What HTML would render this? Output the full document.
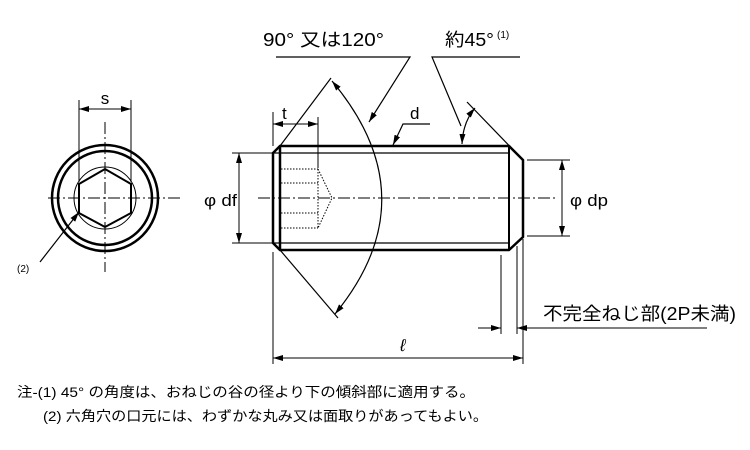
<!DOCTYPE html>
<html><head><meta charset="utf-8"><style>
html,body{margin:0;padding:0;background:#fff;}
svg{display:block;}
text{font-family:"Liberation Sans","Noto Sans CJK JP",sans-serif;fill:#000;}
</style></head><body>
<svg width="750" height="450" viewBox="0 0 750 450" xmlns="http://www.w3.org/2000/svg">
<defs>
<marker id="a" viewBox="0 0 10 6" refX="10" refY="3" markerWidth="10" markerHeight="6" orient="auto-start-reverse" markerUnits="userSpaceOnUse"><path d="M0,0 L10,3 L0,6 z" fill="#000"/></marker>
</defs>
<g fill="none" stroke="#000">
<circle cx="105" cy="198" r="53" stroke-width="2.5"/>
<circle cx="105" cy="198" r="47" stroke-width="2.5"/>
<circle cx="105" cy="198" r="31" stroke-width="1"/>
<polygon points="105,169 131,184 131,213 105,227 79,213 79,184" stroke-width="2"/>
<line x1="48" y1="198" x2="180" y2="198" stroke-width="1" stroke-dasharray="12,3,2,3"/>
<line x1="105" y1="122" x2="105" y2="272" stroke-width="1" stroke-dasharray="12,3,2,3"/>
<line x1="79" y1="100" x2="79" y2="182" stroke-width="1"/>
<line x1="131" y1="100" x2="131" y2="182" stroke-width="1"/>
<line x1="79" y1="109" x2="131" y2="109" stroke-width="1" marker-start="url(#a)" marker-end="url(#a)"/>
<line x1="40" y1="262" x2="79" y2="212" stroke-width="1.2" marker-end="url(#a)"/>

<path d="M280,146 L509,146 L523,160 L523,237 L509,250 L280,250 L273,243 L273,153 Z" stroke-width="2.5"/>
<line x1="280" y1="146" x2="280" y2="250" stroke-width="2.5"/>
<line x1="509" y1="146" x2="509" y2="250" stroke-width="2"/>
<line x1="273" y1="153" x2="509" y2="153" stroke-width="1.2"/>
<line x1="273" y1="243" x2="509" y2="243" stroke-width="1.2"/>
<line x1="258" y1="198" x2="555" y2="198" stroke-width="1" stroke-dasharray="12,3,2,3"/>
<g stroke-width="1" stroke-dasharray="1.5,1.5">
<line x1="281" y1="169" x2="318" y2="169"/>
<line x1="281" y1="183" x2="318" y2="183"/>
<line x1="281" y1="213" x2="318" y2="213"/>
<line x1="281" y1="228" x2="318" y2="228"/>
<polyline points="318,169 318,228"/>
<polyline points="318,169 332,198 318,228"/>
</g>
<line x1="280" y1="146" x2="331" y2="78" stroke-width="1.2"/>
<line x1="280" y1="250" x2="338" y2="318" stroke-width="1.2"/>
<path d="M332,81 Q430,198 335,314" stroke-width="1.2" marker-start="url(#a)" marker-end="url(#a)"/>
<polyline points="276,57 410,57 369,122" stroke-width="1.2" marker-end="url(#a)"/>
<line x1="523" y1="160" x2="467" y2="102" stroke-width="1.2"/>
<path d="M462,144 Q463,122 475,108" stroke-width="1.2" marker-start="url(#a)" marker-end="url(#a)"/>
<polyline points="520,57 432,57 461,126" stroke-width="1.2"/>
<polyline points="430,124 403,124 393,145" stroke-width="1.2" marker-end="url(#a)"/>
<line x1="273" y1="112" x2="273" y2="146" stroke-width="1"/>
<line x1="318" y1="117" x2="318" y2="168" stroke-width="1"/>
<line x1="273" y1="124" x2="318" y2="124" stroke-width="1" marker-start="url(#a)" marker-end="url(#a)"/>
<line x1="232" y1="153" x2="272" y2="153" stroke-width="1"/>
<line x1="232" y1="243" x2="272" y2="243" stroke-width="1"/>
<line x1="239" y1="153" x2="239" y2="243" stroke-width="1" marker-start="url(#a)" marker-end="url(#a)"/>
<line x1="527" y1="160" x2="570" y2="160" stroke-width="1"/>
<line x1="527" y1="236" x2="570" y2="236" stroke-width="1"/>
<line x1="562" y1="160" x2="562" y2="236" stroke-width="1" marker-start="url(#a)" marker-end="url(#a)"/>
<line x1="273" y1="252" x2="273" y2="364" stroke-width="1"/>
<line x1="523" y1="239" x2="523" y2="364" stroke-width="1"/>
<line x1="273" y1="358" x2="523" y2="358" stroke-width="1" marker-start="url(#a)" marker-end="url(#a)"/>
<line x1="501" y1="255" x2="501" y2="334" stroke-width="1"/>
<line x1="517" y1="246" x2="517" y2="334" stroke-width="1"/>
<line x1="478" y1="328" x2="501" y2="328" stroke-width="1" marker-end="url(#a)"/>
<line x1="707" y1="328" x2="517" y2="328" stroke-width="1" marker-end="url(#a)"/>
</g>
<circle cx="522" cy="328" r="1.5" fill="#000"/>

<text x="263" y="46" font-size="18" textLength="121" lengthAdjust="spacingAndGlyphs">90°  又は120°</text>
<text x="445" y="46" font-size="18" textLength="49" lengthAdjust="spacingAndGlyphs">約45°</text>
<text x="497" y="38" font-size="10">(1)</text>
<text x="410" y="119" font-size="17">d</text>
<text x="282" y="119" font-size="17">t</text>
<text x="105" y="104" font-size="17" text-anchor="middle">s</text>
<text x="17" y="272" font-size="10">(2)</text>
<text x="204" y="206" font-size="17" textLength="33" lengthAdjust="spacingAndGlyphs">φ df</text>
<text x="570" y="206" font-size="17" textLength="38" lengthAdjust="spacingAndGlyphs">φ dp</text>
<text x="400" y="351" font-size="17" font-style="italic">ℓ</text>
<text x="543" y="320" font-size="18" textLength="193" lengthAdjust="spacingAndGlyphs">不完全ねじ部(2P未満)</text>
<text x="17" y="397" font-size="14" textLength="458" lengthAdjust="spacingAndGlyphs">注-(1) 45°  の角度は、おねじの谷の径より下の傾斜部に適用する。</text>
<text x="43" y="421" font-size="14" textLength="445" lengthAdjust="spacingAndGlyphs">(2) 六角穴の口元には、わずかな丸み又は面取りがあってもよい。</text>
</svg>
</body></html>
